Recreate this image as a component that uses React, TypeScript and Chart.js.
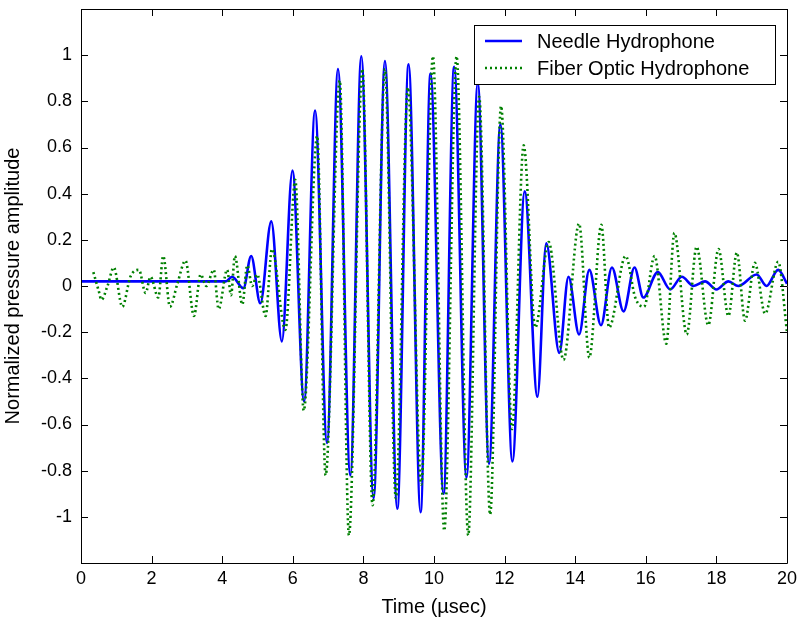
import React, { useEffect, useRef } from "react";
import { Chart, registerables } from "chart.js";

Chart.register(...registerables);

// Needle hydrophone (blue solid) – extrema
const needleTime = [0, 4.1, 4.28, 4.6, 4.82, 5.08, 5.39, 5.69, 5.99, 6.32, 6.63, 6.97, 7.28, 7.63, 7.94, 8.29, 8.61, 8.96, 9.28, 9.62, 9.9, 10.27, 10.57, 10.92, 11.24, 11.56, 11.88, 12.22, 12.57, 12.93, 13.18, 13.55, 13.81, 14.11, 14.4, 14.73, 15.04, 15.37, 15.68, 15.93, 16.34, 16.69, 17.02, 17.35, 17.68, 18.0, 18.34, 18.62, 19.14, 19.42, 19.75, 20];
const needleValue = [0.02, 0.02, 0.04, -0.01, 0.13, -0.075, 0.28, -0.24, 0.5, -0.5, 0.76, -0.68, 0.94, -0.82, 0.995, -0.92, 0.975, -0.965, 0.96, -0.98, 0.92, -0.9, 0.95, -0.83, 0.88, -0.77, 0.7, -0.76, 0.41, -0.48, 0.185, -0.29, 0.04, -0.21, 0.07, -0.17, 0.08, -0.11, 0.08, -0.05, 0.06, -0.015, 0.04, 0.0, 0.02, -0.015, 0.02, 0.0, 0.05, 0.0, 0.07, 0.01];

// Fiber optic hydrophone (green dotted)
const fiberTime = [0.35, 0.5, 0.58, 0.75, 0.93, 1.17, 1.4, 1.64, 1.83, 1.97, 2.19, 2.33, 2.52, 2.73, 2.96, 3.2, 3.39, 3.55, 3.76, 3.9, 4.14, 4.25, 4.36, 4.57, 4.71, 4.85, 4.99, 5.23, 5.41, 5.79, 6.07, 6.31, 6.69, 6.93, 7.33, 7.59, 7.97, 8.26, 8.61, 8.92, 9.26, 9.64, 9.97, 10.29, 10.64, 10.97, 11.28, 11.59, 11.9, 12.21, 12.54, 12.87, 13.25, 13.67, 14.11, 14.4, 14.74, 14.96, 15.43, 15.7, 15.95, 16.25, 16.58, 16.81, 17.16, 17.44, 17.77, 18.06, 18.34, 18.58, 18.81, 19.09, 19.38, 19.75, 20];
const fiberValue = [0.06, -0.02, -0.06, 0.0, 0.08, -0.09, 0.04, 0.07, -0.03, 0.04, -0.05, 0.13, -0.09, 0.01, 0.11, -0.13, 0.05, 0.0, 0.07, -0.1, 0.07, -0.04, 0.13, -0.08, 0.09, 0.0, 0.05, -0.13, 0.16, -0.19, 0.46, -0.54, 0.65, -0.82, 0.89, -1.08, 0.94, -0.95, 0.94, -0.92, 0.86, -0.86, 0.995, -1.06, 0.995, -1.08, 0.82, -0.99, 0.78, -0.62, 0.61, -0.18, 0.19, -0.32, 0.27, -0.31, 0.265, -0.18, 0.13, -0.05, -0.09, 0.13, -0.25, 0.23, -0.21, 0.17, -0.17, 0.16, -0.13, 0.145, -0.15, 0.1, -0.12, 0.105, -0.2];

const xTicks = [0, 2, 4, 6, 8, 10, 12, 14, 16, 18, 20];
const yTicks = [-1.2, -1, -0.8, -0.6, -0.4, -0.2, 0, 0.2, 0.4, 0.6, 0.8, 1, 1.2];

const seriesNames = ["Needle Hydrophone", "Fiber Optic Hydrophone"];
const xTitle = "Time (\u00b5sec)";
const yTitle = "Normalized pressure amplitude";

const FONT = "'Liberation Sans', Arial, sans-serif";
const BLUE = "#0000ff";
const GREEN = "#008000";

const boxPlugin = {
  id: "matlabBox",
  afterDatasetsDraw(chart: any) {
    const { ctx, chartArea: a, scales } = chart;
    ctx.save();
    ctx.strokeStyle = "#000";
    ctx.lineWidth = 1;
    ctx.beginPath();
    ctx.rect(Math.round(a.left) + 0.5, Math.round(a.top) + 0.5, Math.round(a.right - a.left), Math.round(a.bottom - a.top));
    const tl = 7;
    xTicks.forEach((t) => {
      const px = Math.round(scales.x.getPixelForValue(t)) + 0.5;
      ctx.moveTo(px, a.bottom);
      ctx.lineTo(px, a.bottom - tl);
      ctx.moveTo(px, a.top);
      ctx.lineTo(px, a.top + tl);
    });
    yTicks.forEach((v) => {
      const py = Math.round(scales.y.getPixelForValue(v)) + 0.5;
      ctx.moveTo(a.left, py);
      ctx.lineTo(a.left + tl, py);
      ctx.moveTo(a.right, py);
      ctx.lineTo(a.right - tl, py);
    });
    ctx.stroke();
    ctx.restore();
  },
  afterDraw(chart: any) {
    const { ctx } = chart;
    ctx.save();
    const bx = 474, by = 25, bw = 301, bh = 59;
    ctx.fillStyle = "#fff";
    ctx.fillRect(bx, by, bw, bh);
    ctx.strokeStyle = "#000";
    ctx.lineWidth = 1;
    ctx.strokeRect(bx + 0.5, by + 0.5, bw, bh);
    const rows = [41, 68];
    ctx.lineWidth = 2.6;
    ctx.strokeStyle = BLUE;
    ctx.beginPath();
    ctx.moveTo(485, rows[0]);
    ctx.lineTo(522, rows[0]);
    ctx.stroke();
    ctx.strokeStyle = GREEN;
    ctx.setLineDash([2, 3]);
    ctx.beginPath();
    ctx.moveTo(485, rows[1]);
    ctx.lineTo(522, rows[1]);
    ctx.stroke();
    ctx.setLineDash([]);
    ctx.fillStyle = "#000";
    ctx.font = `20px ${FONT}`;
    ctx.textBaseline = "middle";
    ctx.textAlign = "left";
    seriesNames.forEach((n, i) => ctx.fillText(n, 537, rows[i] + 1));
    ctx.restore();
  },
};

export default function App() {
  const ref = useRef<HTMLCanvasElement>(null);
  useEffect(() => {
    if (!ref.current) return;
    const chart = new Chart(ref.current, {
      type: "line",
      data: {
        datasets: [
          {
            label: seriesNames[0],
            data: needleTime.map((t, i) => ({ x: t, y: needleValue[i] })),
            borderColor: BLUE,
            borderWidth: 2.6,
            pointRadius: 0,
            cubicInterpolationMode: "monotone",
            order: 2,
          },
          {
            label: seriesNames[1],
            data: fiberTime.map((t, i) => ({ x: t, y: fiberValue[i] })),
            borderColor: GREEN,
            borderWidth: 2.6,
            borderDash: [2, 3],
            pointRadius: 0,
            cubicInterpolationMode: "monotone",
            order: 1,
          },
        ],
      },
      options: {
        animation: false,
        responsive: false,
        layout: { padding: { left: 0, top: 9, right: 13, bottom: 0 } },
        plugins: { legend: { display: false }, tooltip: { enabled: false } },
        scales: {
          x: {
            type: "linear",
            min: 0,
            max: 20,
            grid: { display: false, drawTicks: false },
            border: { display: false },
            afterBuildTicks: (s: any) => {
              s.ticks = xTicks.map((v) => ({ value: v }));
            },
            afterFit: (s: any) => {
              s.height = 63;
              s.paddingLeft = 0;
              s.paddingRight = 0;
            },
            ticks: {
              color: "#000",
              font: { family: FONT, size: 18 },
              padding: 5,
              maxRotation: 0,
              autoSkip: false,
              callback: (v: any) => String(v),
            },
            title: {
              display: true,
              text: xTitle,
              color: "#000",
              font: { family: FONT, size: 20 },
              padding: { top: 0, bottom: 7 },
            },
          },
          y: {
            type: "linear",
            min: -1.2,
            max: 1.2,
            grid: { display: false, drawTicks: false },
            border: { display: false },
            afterBuildTicks: (s: any) => {
              s.ticks = yTicks.map((v) => ({ value: v }));
            },
            afterFit: (s: any) => {
              s.width = 81;
              s.paddingTop = 0;
              s.paddingBottom = 0;
            },
            ticks: {
              color: "#000",
              font: { family: FONT, size: 18 },
              padding: 9,
              autoSkip: false,
              callback: (v: any) => (Math.abs(v) > 1.1 ? "" : String(Math.round(v * 10) / 10)),
            },
            title: {
              display: true,
              text: yTitle,
              color: "#000",
              font: { family: FONT, size: 20 },
              padding: { top: 1, bottom: 0 },
            },
          },
        },
      },
      plugins: [boxPlugin],
    } as any);
    return () => chart.destroy();
  }, []);
  return (
    <div style={{ position: "fixed", left: 0, top: 0, width: 800, height: 626, background: "#fff" }}>
      <canvas ref={ref} width={800} height={626} style={{ width: 800, height: 626, display: "block" }} />
    </div>
  );
}
